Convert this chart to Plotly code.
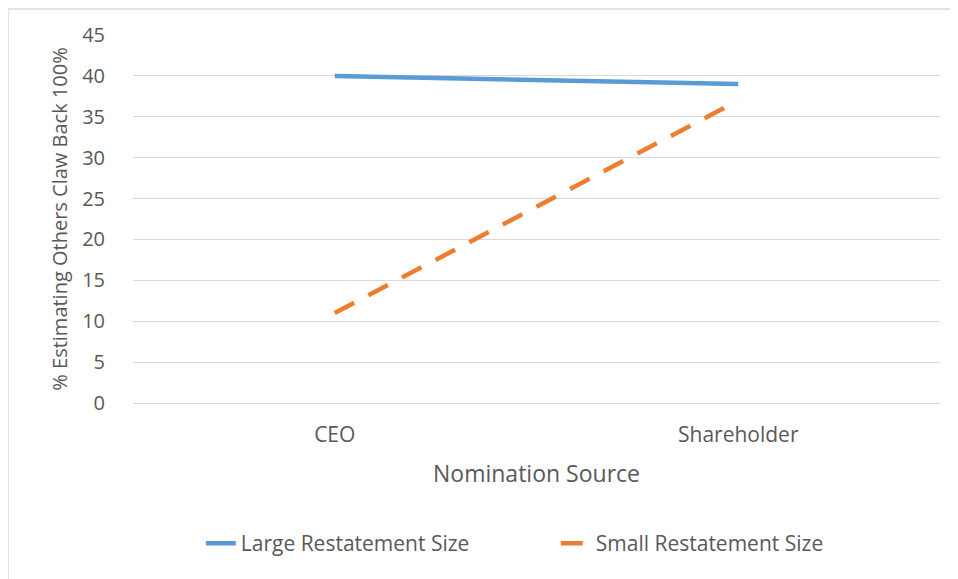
import plotly.graph_objs as go

categories = ["CEO", "Shareholder"]
large_restatement = [40, 39]
small_restatement = [11, 37]
y_ticks = [0, 5, 10, 15, 20, 25, 30, 35, 40, 45]

font_family = "Open Sans, Lato, sans-serif"
text_color = "#595959"

fig = go.Figure()
fig.add_trace(go.Scatter(x=categories, y=large_restatement, mode='lines', name='Large Restatement Size',
                         line=dict(color='#5b9bd5', width=4.5)))
fig.add_trace(go.Scatter(x=categories, y=small_restatement, mode='lines', name='Small Restatement Size',
                         line=dict(color='#ed7d31', width=4.5, dash='22px,16px')))

# outer chart frame (only top/left visible in the crop)
fig.add_shape(type='rect', xref='paper', yref='paper', x0=-0.1549, y0=-0.7, x1=1.2, y1=1.0707,
              line=dict(color='#d9d9d9', width=1.5), layer='below')

fig.update_layout(
    width=950, height=571,
    margin=dict(l=125, r=18, t=27, b=176),
    paper_bgcolor='white', plot_bgcolor='white',
    font=dict(family=font_family, color=text_color, size=18),
    showlegend=True,
    legend=dict(orientation='h', x=0.084, xanchor='left', y=-0.382, yanchor='middle',
                font=dict(size=21, color=text_color), tracegroupgap=0, entrywidth=310),
    xaxis=dict(title=dict(text='Nomination Source', font=dict(size=23, color=text_color), standoff=18),
               showgrid=False, showline=False, ticks='', zeroline=False,
               tickfont=dict(size=21, color=text_color), range=[-0.5, 1.5], ticklabelstandoff=17),
    yaxis=dict(title=dict(text='% Estimating Others Claw Back 100%', font=dict(size=20, color=text_color), standoff=9),
               range=[0, 45], tickvals=y_ticks, showgrid=True, gridcolor='#d9d9d9', gridwidth=1,
               zeroline=True, zerolinecolor='#d9d9d9', zerolinewidth=1, showline=False, ticks='',
               tickfont=dict(size=20, color=text_color), ticklabelstandoff=27),
)

fig.write_html("out.html")
